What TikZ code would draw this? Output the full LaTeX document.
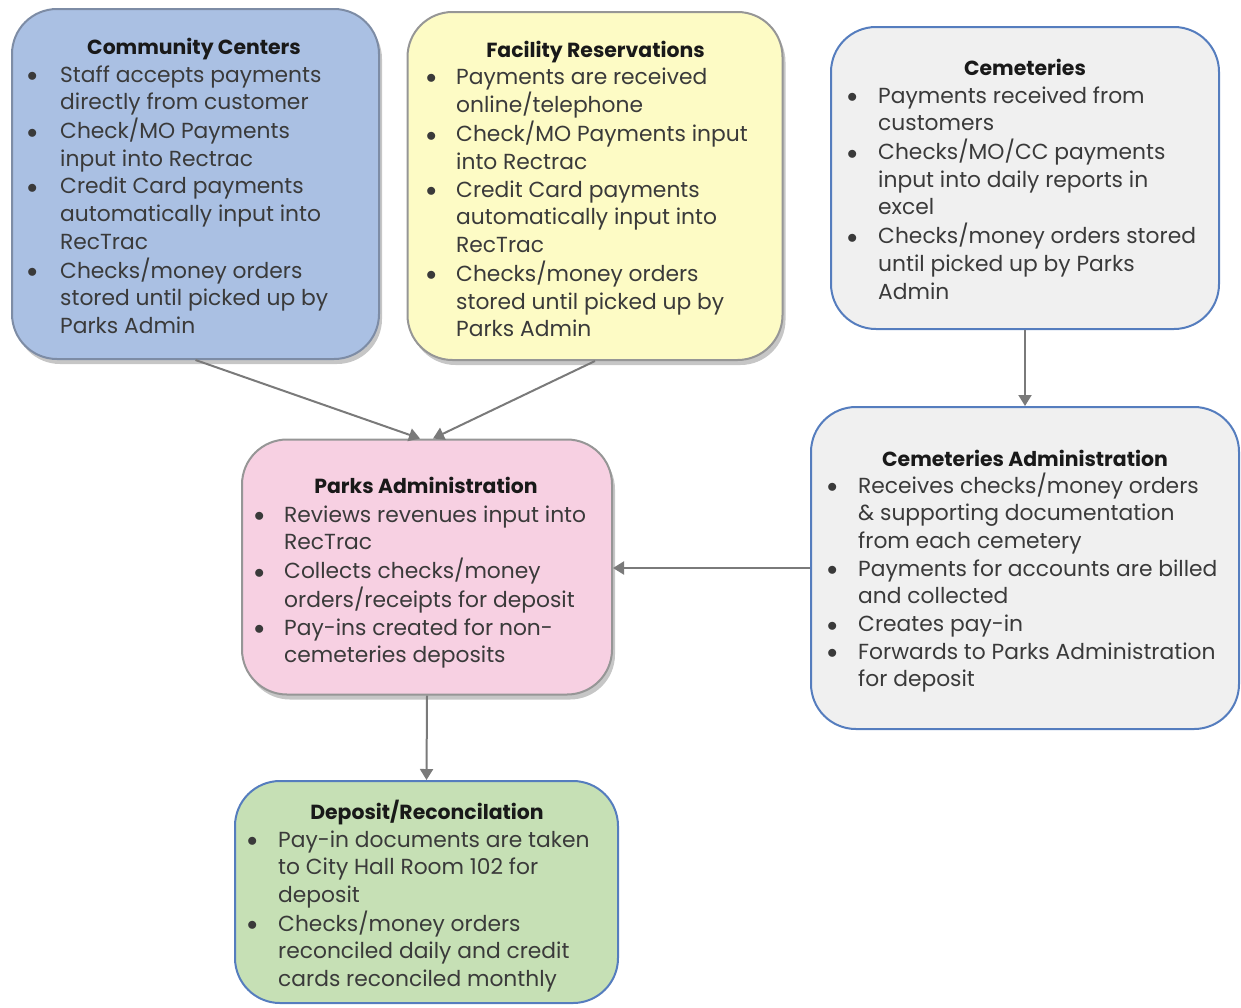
\documentclass[tikz,border=0pt]{standalone}
\usepackage{fontspec}
\setmainfont{Poppins}
\usetikzlibrary{arrows.meta,shadows}
\definecolor{ccfill}{RGB}{170,192,227}
\definecolor{ccdraw}{RGB}{125,140,165}
\definecolor{frfill}{RGB}{253,251,197}
\definecolor{graydraw}{RGB}{150,150,150}
\definecolor{cemfill}{RGB}{240,240,240}
\definecolor{bluedraw}{RGB}{85,125,190}
\definecolor{pafill}{RGB}{247,208,226}
\definecolor{depfill}{RGB}{198,224,181}
\definecolor{bodytext}{RGB}{58,58,58}
\definecolor{headtext}{RGB}{25,25,25}
\definecolor{arrowgray}{RGB}{122,122,122}
\newcommand{\bu}{\raisebox{0.5pt}{$\bullet$}}
\newcommand{\blist}[2]{{\fontsize{21.8}{27.7}\selectfont\begin{tabular}[t]{@{}p{#1pt}@{}l@{}}#2\end{tabular}}}
\tikzset{
  cbox/.style={rounded corners=45pt, line width=2pt, inner sep=0pt},
  shadowed/.style={drop shadow={opacity=0.45, shadow xshift=3pt, shadow yshift=-5pt}},
  hd/.style={anchor=base, inner sep=0pt, text=headtext, font=\fontsize{20.4}{22}\selectfont\bfseries},
  bl/.style={anchor=base west, inner sep=0pt, text=bodytext},
  conn/.style={draw=arrowgray, line width=2pt, -{Triangle[length=11pt,width=13pt]}}
}
\begin{document}
\begin{tikzpicture}[x=1pt,y=-1pt]
\useasboundingbox (0,0) rectangle (1241,1007);
% boxes
\node[cbox, shadowed, fill=ccfill, draw=ccdraw, minimum width=367, minimum height=350] (cc) at (195.5,184) {};
\node[cbox, shadowed, fill=frfill, draw=graydraw, minimum width=375, minimum height=348] (fr) at (595,186) {};
\node[cbox, fill=cemfill, draw=bluedraw, minimum width=388, minimum height=302] (cem) at (1025,178) {};
\node[cbox, shadowed, fill=pafill, draw=graydraw, minimum width=370, minimum height=255] (pa) at (427,567) {};
\node[cbox, fill=cemfill, draw=bluedraw, minimum width=428, minimum height=322] (ca) at (1025,568) {};
\node[cbox, fill=depfill, draw=bluedraw, minimum width=383, minimum height=222] (dep) at (426.5,892) {};
% headings
\node[hd] (cc-h) at (194,54) {Community Centers};
\node[hd] (fr-h) at (595.5,57) {Facility Reservations};
\node[hd] (cem-h) at (1025,75) {Cemeteries};
\node[hd] (pa-h) at (426,493) {Parks Administration};
\node[hd] (ca-h) at (1025,466) {Cemeteries Administration};
\node[hd] (dep-h) at (427,819) {Deposit/Reconcilation};
% bullet texts
\node[bl] (cc-t) at (27,82) {\blist{33}{
\bu & Staff accepts payments\\ & directly from customer\\
\bu & Check/MO Payments\\ & input into Rectrac\\
\bu & Credit Card payments\\ & automatically input into\\ & RecTrac\\
\bu & Checks/money orders\\ & stored until picked up by\\ & Parks Admin}};
\node[bl] (fr-t) at (426,84) {\blist{30}{
\bu & Payments are received\\ & online/telephone\\
\bu & Check/MO Payments input\\ & into Rectrac\\
\bu & Credit Card payments\\ & automatically input into\\ & RecTrac\\
\bu & Checks/money orders\\ & stored until picked up by\\ & Parks Admin}};
\node[bl] (cem-t) at (847,103) {\blist{31}{
\bu & Payments received from\\ & customers\\
\bu & Checks/MO/CC payments\\ & input into daily reports in\\ & excel\\
\bu & Checks/money orders stored\\ & until picked up by Parks\\ & Admin}};
\node[bl] (pa-t) at (254,522) {\blist{30}{
\bu & Reviews revenues input into\\ & RecTrac\\
\bu & Collects checks/money\\ & orders/receipts for deposit\\
\bu & Pay-ins created for non-\\ & cemeteries deposits}};
\node[bl] (ca-t) at (827,493) {\blist{31}{
\bu & Receives checks/money orders\\ & \& supporting documentation\\ & from each cemetery\\
\bu & Payments for accounts are billed\\ & and collected\\
\bu & Creates pay-in\\
\bu & Forwards to Parks Administration\\ & for deposit}};
\node[bl] (dep-t) at (247,847) {\blist{31}{
\bu & Pay-in documents are taken\\ & to City Hall Room 102 for\\ & deposit\\
\bu & Checks/money orders\\ & reconciled daily and credit\\ & cards reconciled monthly}};
% connectors
\draw[conn] (cc.south) -- ([xshift=-7pt]pa.north);
\draw[conn] (fr.south) -- ([xshift=6pt]pa.north);
\draw[conn] (cem.south) -- (ca.north);
\draw[conn] (ca.west) -- (ca.west -| pa.east);
\draw[conn] (pa.south) -- (dep.north);
\end{tikzpicture}
\end{document}
